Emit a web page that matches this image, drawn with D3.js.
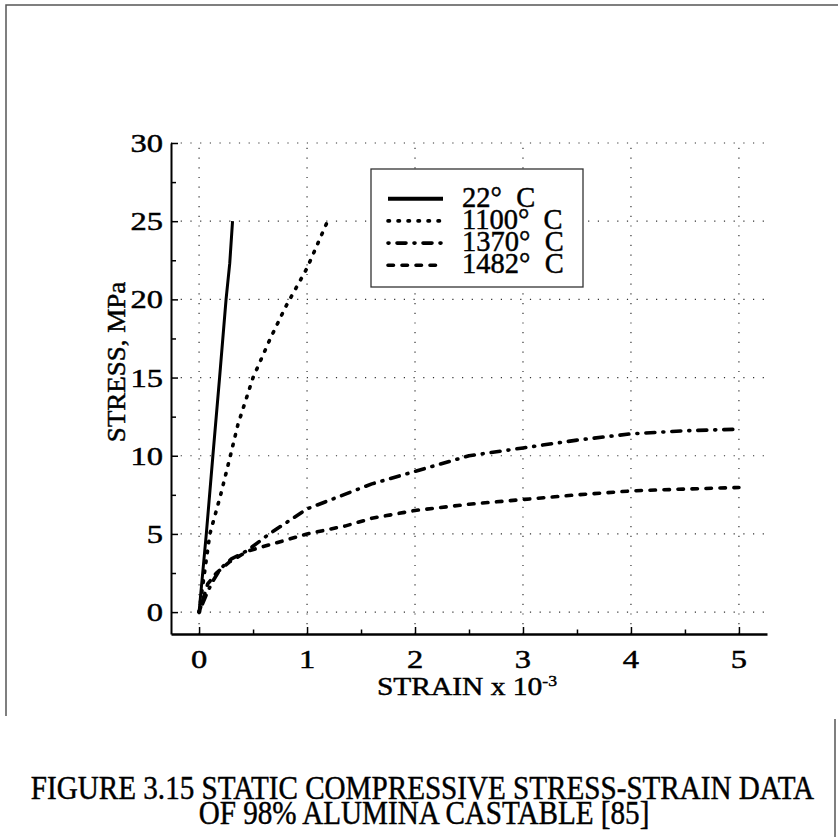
<!DOCTYPE html>
<html><head><meta charset="utf-8">
<script src="https://cdn.jsdelivr.net/npm/d3@7"></script>
<style>
html,body{margin:0;padding:0;background:#fff;}
svg{display:block;}
text{font-family:"Liberation Serif","Times New Roman",serif;fill:#000;stroke:#000;stroke-width:0.45px;}
</style></head><body>
<svg id="chart" width="838" height="837"></svg>
<script>
// ---- data ----
const xTickValues = [0, 1, 2, 3, 4, 5];
const yTickValues = [0, 5, 10, 15, 20, 25, 30];
const xMinorTicks = [0.5, 1.5, 2.5, 3.5, 4.5];
const yMinorTicks = [2.5, 7.5, 12.5, 17.5, 22.5, 27.5];
const seriesNames = ["22°  C", "1100°  C", "1370°  C", "1482°  C"];
const strain22 = [0, 0.067, 0.128, 0.19, 0.25, 0.284, 0.31];
const stress22 = [0, 5, 10, 15, 20, 22.3, 25];
const strain1100 = [0, 0.04, 0.1, 0.2, 0.29, 0.36, 0.5, 0.66, 0.8, 1.0, 1.19];
const stress1100 = [0, 2, 5, 7.5, 10, 12, 15, 17.5, 19.5, 22, 25];
const strain1370 = [0, 0.06, 0.12, 0.2, 0.3, 0.45, 0.65, 1.0, 1.3, 1.6, 2.0, 2.5, 3.0, 3.5, 4.0, 4.5, 5.0];
const stress1370 = [0, 1.0, 1.9, 2.8, 3.4, 3.95, 5.0, 6.6, 7.4, 8.2, 9.0, 10.0, 10.5, 11.0, 11.4, 11.6, 11.7];
const strain1482 = [0, 0.08, 0.16, 0.28, 0.45, 0.7, 1.0, 1.35, 1.6, 2.0, 2.5, 3.0, 3.5, 4.0, 4.5, 5.0];
const stress1482 = [0, 1.8, 2.5, 3.2, 3.9, 4.4, 5.0, 5.5, 6.0, 6.5, 6.9, 7.2, 7.5, 7.75, 7.87, 7.97];
const xLabel = "STRAIN x 10";
const xLabelSup = "-3";
const yLabel = "STRESS, MPa";
const captionLines = ["FIGURE 3.15 STATIC COMPRESSIVE STRESS-STRAIN DATA", "OF 98% ALUMINA CASTABLE [85]"];

const series = [
  {name: seriesNames[0], xs: strain22, ys: stress22, dash: null, width: 3},
  {name: seriesNames[1], xs: strain1100, ys: stress1100, dash: "1.5,8.5", width: 3.6},
  {name: seriesNames[2], xs: strain1370, ys: stress1370, dash: "1,8,9,8", width: 3.6},
  {name: seriesNames[3], xs: strain1482, ys: stress1482, dash: "5.5,8.5", width: 3.6}
];

const svg = d3.select("#chart");

// frame
const frame = svg.append("g").attr("stroke", "#555").attr("stroke-width", 1.5).attr("fill", "none");
frame.append("path").attr("d", "M6,716 L6,5 L838,5");
frame.append("path").attr("d", "M835,719 L835,837");

const x = d3.scaleLinear().domain([-0.26, 5.26]).range([171, 767]);
const y = d3.scaleLinear().domain([-1.4, 30]).range([634, 143]);

// grid
const grid = svg.append("g").attr("stroke", "#333").attr("stroke-width", 1.2).attr("stroke-dasharray", "1.2,8.5").attr("fill", "none");
grid.selectAll("line.h").data(yTickValues).join("line")
  .attr("x1", x.range()[0]).attr("x2", x.range()[1])
  .attr("y1", d => y(d)).attr("y2", d => y(d));
grid.selectAll("line.v").data(xTickValues).join("line")
  .attr("x1", d => x(d)).attr("x2", d => x(d))
  .attr("y1", y.range()[0]).attr("y2", y.range()[1]);

// axes
const xAxis = svg.append("g").attr("transform", `translate(0,${y.range()[0]})`)
  .call(d3.axisBottom(x).tickValues(xTickValues).tickSize(-7).tickSizeOuter(0).tickFormat(""));
svg.append("g").attr("transform", `translate(0,${y.range()[0]})`)
  .call(d3.axisBottom(x).tickValues(xMinorTicks).tickSize(-4.5).tickSizeOuter(0).tickFormat(""))
  .select(".domain").remove();
const yAxis = svg.append("g").attr("transform", `translate(${x.range()[0]},0)`)
  .call(d3.axisLeft(y).tickValues(yTickValues).tickSize(-7).tickSizeOuter(0).tickFormat(""));
svg.append("g").attr("transform", `translate(${x.range()[0]},0)`)
  .call(d3.axisLeft(y).tickValues(yMinorTicks).tickSize(-5).tickSizeOuter(0).tickFormat(""))
  .select(".domain").remove();
svg.selectAll(".tick line").attr("stroke", "#000").attr("stroke-width", 1.5);
xAxis.select(".domain").attr("stroke", "#000").attr("stroke-width", 2.5);
yAxis.select(".domain").attr("stroke", "#000").attr("stroke-width", 2);

// tick labels
svg.append("g").selectAll("text").data(xTickValues).join("text")
  .attr("transform", d => `translate(${x(d)},668) scale(1.3,1)`)
  .attr("text-anchor", "middle").attr("font-size", 25).text(d => d);
svg.append("g").selectAll("text").data(yTickValues).join("text")
  .attr("transform", d => `translate(163,${y(d) + 9}) scale(1.3,1)`)
  .attr("text-anchor", "end").attr("font-size", 25).text(d => d);

// axis titles
const xt = svg.append("text").attr("transform", "translate(467,695) scale(1.18,1)")
  .attr("text-anchor", "middle").attr("font-size", 25);
xt.append("tspan").text(xLabel);
xt.append("tspan").attr("font-size", 15).attr("dy", -9).text(xLabelSup);
svg.append("text").attr("transform", `translate(125,${y(16)}) rotate(-90) scale(1.08,1)`)
  .attr("text-anchor", "middle").attr("font-size", 25).text(yLabel);

// curves
const line = d3.line().x(d => x(d[0])).y(d => y(d[1]));
svg.append("g").selectAll("path").data(series).join("path")
  .attr("d", s => line(s.xs.map((v, i) => [v, s.ys[i]])))
  .attr("fill", "none").attr("stroke", "#000")
  .attr("stroke-width", s => s.width)
  .attr("stroke-linecap", s => s.dash ? "round" : "butt")
  .attr("stroke-linejoin", "round")
  .attr("stroke-dasharray", s => s.dash);

// legend
const lg = svg.append("g");
lg.append("rect").attr("x", 371).attr("y", 169).attr("width", 212).attr("height", 118)
  .attr("fill", "#fff").attr("stroke", "#333").attr("stroke-width", 1.3);
const items = lg.selectAll("g.item").data(series).join("g")
  .attr("transform", (d, i) => `translate(0,${206.7 + i * 22.2})`);
items.append("line").attr("x1", 388).attr("x2", 443).attr("y1", -8).attr("y2", -8)
  .attr("stroke", "#000").attr("stroke-width", d => d.dash ? 3.6 : 4)
  .attr("stroke-linecap", d => d.dash ? "round" : "butt")
  .attr("stroke-dasharray", d => d.dash);
items.append("text").attr("x", 462).attr("font-size", 28.5).style("white-space", "pre").text(d => d.name);

// caption
svg.append("text").attr("transform", "translate(422.5,799) scale(0.883,1)")
  .attr("text-anchor", "middle").attr("font-size", 33).text(captionLines[0]);
svg.append("text").attr("transform", "translate(424,824) scale(0.883,1)")
  .attr("text-anchor", "middle").attr("font-size", 33).text(captionLines[1]);
</script>
</body></html>
